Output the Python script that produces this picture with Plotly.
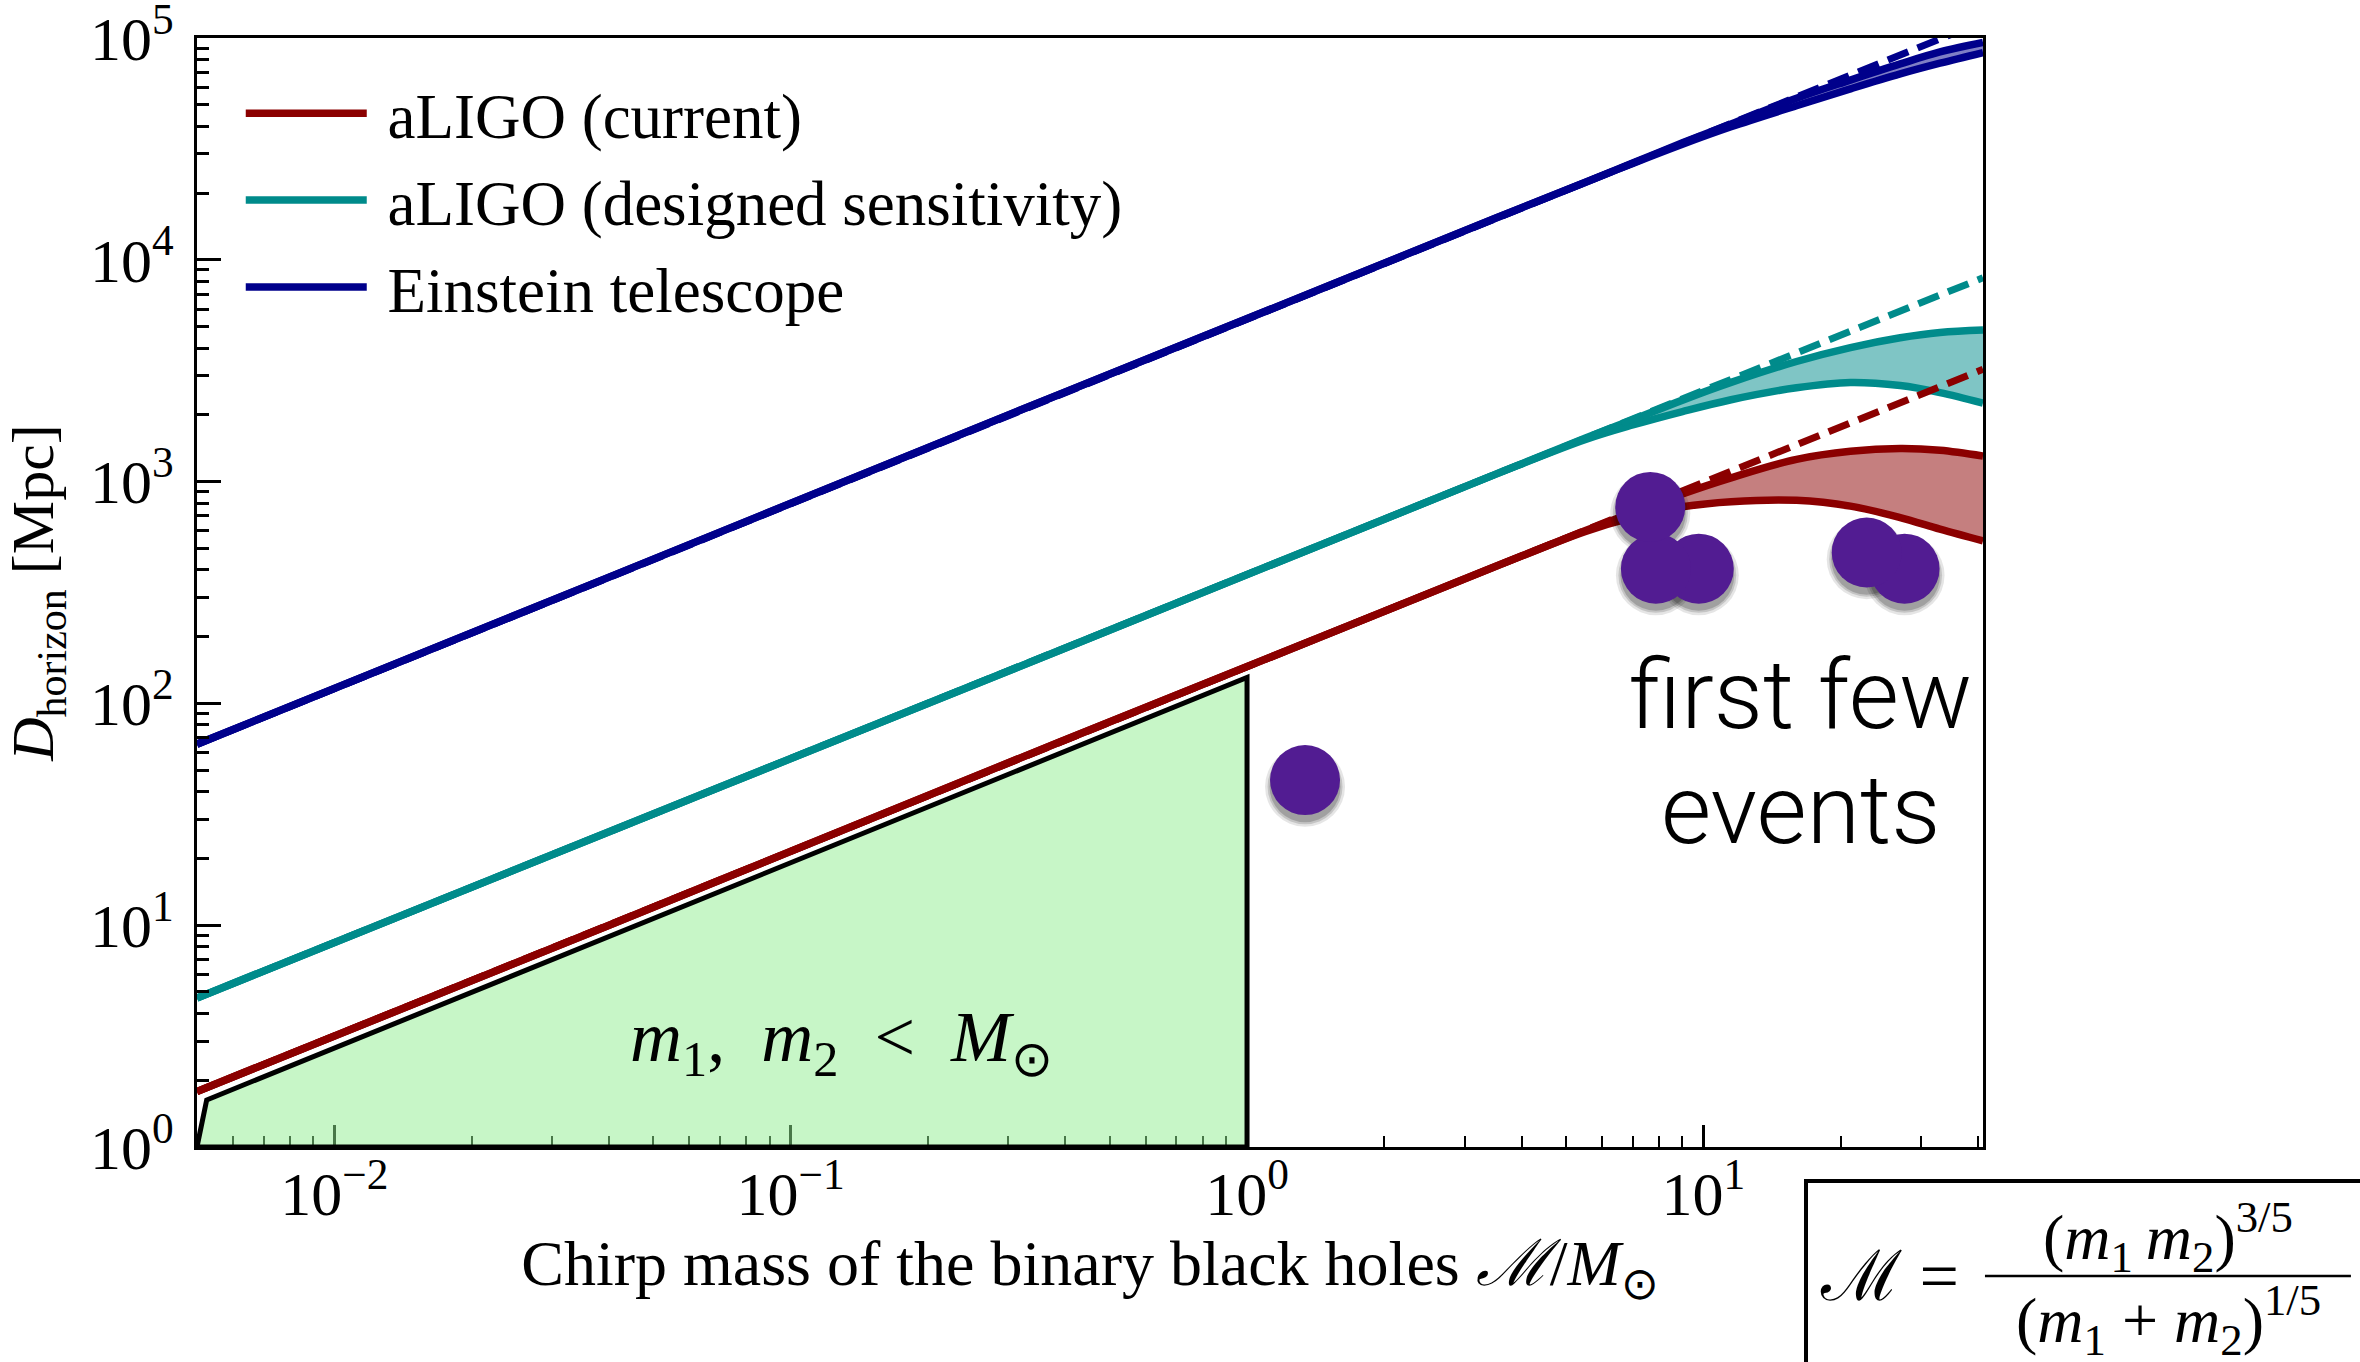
import numpy as np
import plotly.graph_objects as go

# ---------------- data ----------------
X_RANGE = [0.005, 41]
Y_RANGE = [1, 1e5]

M_grid = [0.005, 0.04, 0.3, 1.5, 3.5, 5.5, 7, 9, 11.5, 16, 21, 27, 33, 41]

# aLIGO (current)
cur_upper = [1.78, 10.0, 54, 205, 414, 600, 725, 880, 1040, 1260, 1370, 1410, 1385, 1305]
cur_lower = [1.78, 10.0, 54, 205, 414, 595, 690, 770, 812, 823, 775, 688, 610, 540]
cur_dash_M = [0.005, 41]
cur_dash_D = [1.78, 3210]

# aLIGO (designed sensitivity)
des_upper = [4.7, 26.4, 140, 533, 1078, 1568, 1900, 2330, 2800, 3480, 4020, 4450, 4700, 4820]
des_lower = [4.7, 26.4, 140, 533, 1078, 1545, 1800, 2070, 2340, 2650, 2800, 2710, 2520, 2260]
des_dash_M = [0.005, 41]
des_dash_D = [4.7, 8300]

# Einstein telescope
et_upper = [65.5, 371, 1998, 7595, 15400, 22300, 27300, 33700, 41000, 53500, 64600, 76400, 86500, 95500]
et_lower = [65.5, 371, 1998, 7595, 15400, 22300, 27200, 33200, 39800, 49500, 59000, 68900, 77000, 86000]
et_dash_M = [0.005, 41]
et_dash_D = [65.5, 118600]

# region m1, m2 < M_sun
green_M = [0.005, 0.00525, 1.0, 1.0, 0.005]
green_D = [1.0, 1.63, 131, 1.0, 1.0]

# detected events (drawn back to front)
ev_M = [27.6, 22.8, 9.77, 7.87, 7.65, 1.34]
ev_D = [405, 479, 405, 405, 769, 45.1]

# ticks
x_ticks = [0.01, 0.1, 1, 10]
x_labels = ["10<sup>\u22122</sup>", "10<sup>\u22121</sup>", "10<sup>0</sup>", "10<sup>1</sup>"]
y_ticks = [1, 10, 100, 1000, 1e4, 1e5]
y_labels = ["10<sup>0</sup>", "10<sup>1</sup>", "10<sup>2</sup>", "10<sup>3</sup>",
            "10<sup>4</sup>", "10<sup>5</sup>"]
x_minor = [m * 10.0 ** k for k in (-3, -2, -1, 0, 1) for m in range(2, 10)
           if X_RANGE[0] < m * 10.0 ** k < X_RANGE[1]]
y_minor = [m * 10.0 ** k for k in range(0, 5) for m in range(2, 10)]

RED, TEAL, NAVY = "#8b0000", "#008b8b", "#00008b"
SERIF = "Liberation Serif"
LW = 7.5

fig = go.Figure()

fig.add_trace(go.Scatter(
    x=green_M, y=green_D, mode="lines", fill="toself",
    fillcolor="rgba(144,238,144,0.5)", line=dict(color="black", width=5),
    showlegend=False, hoverinfo="skip"))

detectors = [
    (cur_upper, cur_lower, cur_dash_M, cur_dash_D, RED, "rgba(139,0,0,0.5)", "aLIGO (current)"),
    (des_upper, des_lower, des_dash_M, des_dash_D, TEAL, "rgba(0,139,139,0.5)",
     "aLIGO (designed sensitivity)"),
    (et_upper, et_lower, et_dash_M, et_dash_D, NAVY, "rgba(0,0,139,0.5)", "Einstein telescope"),
]

for upper, lower, dM, dD, color, fillcolor, name in detectors:
    fig.add_trace(go.Scatter(
        x=M_grid, y=upper, mode="lines", name="\u00a0" + name, legendgroup=name,
        line=dict(color=color, width=LW, shape="spline")))
    fig.add_trace(go.Scatter(
        x=M_grid, y=lower, mode="lines", fill="tonexty", fillcolor=fillcolor,
        line=dict(color=color, width=LW, shape="spline"),
        showlegend=False, legendgroup=name, hoverinfo="skip"))

for upper, lower, dM, dD, color, fillcolor, name in detectors:
    fig.add_trace(go.Scatter(
        x=dM, y=dD, mode="lines", line=dict(color=color, width=7, dash="22px,10px"),
        showlegend=False, legendgroup=name, hoverinfo="skip"))

# soft drop shadows (overlay axis shifted a few pixels down)
for size, col in ((80, "rgba(0,0,0,0.10)"), (75, "rgba(0,0,0,0.14)"), (71, "rgba(0,0,0,0.18)")):
    fig.add_trace(go.Scatter(
        x=ev_M, y=ev_D, mode="markers", yaxis="y2",
        marker=dict(size=size, color=col, line=dict(width=0)),
        showlegend=False, hoverinfo="skip"))

fig.add_trace(go.Scatter(
    x=ev_M, y=ev_D, mode="markers", yaxis="y3",
    marker=dict(size=70, color="#521c92", line=dict(width=0)),
    showlegend=False))

ylog = [np.log10(Y_RANGE[0]), np.log10(Y_RANGE[1])]
shift = 0.03

fig.update_layout(
    width=2360, height=1362,
    margin=dict(l=197, r=377, t=38, b=215, autoexpand=False),
    paper_bgcolor="white", plot_bgcolor="white",
    legend=dict(x=0.0245, y=0.975, xanchor="left", yanchor="top",
                font=dict(family=SERIF, size=63, color="black"),
                bgcolor="rgba(0,0,0,0)", itemwidth=121, tracegroupgap=2,
                traceorder="grouped"),
    xaxis=dict(
        type="log", range=[np.log10(X_RANGE[0]), np.log10(X_RANGE[1])],
        showline=True, linecolor="black", linewidth=3, mirror=True,
        ticks="inside", ticklen=22, tickwidth=2.5, tickcolor="black",
        tickmode="array", tickvals=x_ticks, ticktext=x_labels,
        tickfont=dict(family=SERIF, size=62, color="black"), ticklabelstandoff=-9,
        ticklabeloverflow="allow",
        minor=dict(tickmode="array", tickvals=x_minor, ticks="inside", ticklen=11,
                   tickwidth=2, tickcolor="black", showgrid=False),
        showgrid=False, zeroline=False, layer="below traces",
        title=dict(text="Chirp mass of the binary black holes <i>\u2133</i>/<i>M</i><sub>\u2299</sub>",
                   font=dict(family=SERIF, size=64, color="black"), standoff=9),
    ),
    yaxis=dict(
        type="log", range=ylog,
        showline=True, linecolor="black", linewidth=3, mirror=True,
        ticks="inside", ticklen=24, tickwidth=3, tickcolor="black",
        tickmode="array", tickvals=y_ticks, ticktext=y_labels,
        tickfont=dict(family=SERIF, size=62, color="black"), ticklabelstandoff=8,
        ticklabeloverflow="allow",
        minor=dict(tickmode="array", tickvals=y_minor, ticks="inside", ticklen=12,
                   tickwidth=2.5, tickcolor="black", showgrid=False),
        showgrid=False, zeroline=False,
        title=dict(text="<i>D</i><sub>horizon</sub> [Mpc]",
                   font=dict(family=SERIF, size=60, color="black"), standoff=18),
    ),
    yaxis2=dict(type="log", range=[ylog[0] + shift, ylog[1] + shift], overlaying="y",
                visible=False, fixedrange=True),
    yaxis3=dict(type="log", range=ylog, overlaying="y", visible=False, fixedrange=True),
)

fig.add_annotation(
    text="<i>m</i><sub>1</sub>,\u2002<i>m</i><sub>2</sub>\u2002&lt;\u2002<i>M</i><sub>\u2299</sub>",
    xref="paper", yref="paper", x=0.361, y=0.095, showarrow=False,
    xanchor="center", yanchor="middle", font=dict(family=SERIF, size=72, color="black"))

sans = dict(family="Roboto", size=97, color="black", weight=300)
fig.add_annotation(text="first few", xref="paper", yref="paper", x=0.898, y=0.408,
                   showarrow=False, xanchor="center", yanchor="middle", font=sans)
fig.add_annotation(text="events", xref="paper", yref="paper", x=0.898, y=0.304,
                   showarrow=False, xanchor="center", yanchor="middle", font=sans)

# chirp-mass definition box
fig.add_shape(type="rect", xref="paper", yref="paper", x0=0.9009, x1=1.4, y0=-0.6, y1=-0.0307,
              line=dict(color="black", width=4), fillcolor="rgba(0,0,0,0)")
fig.add_shape(type="line", xref="paper", yref="paper", x0=1.0011, x1=1.2060, y0=-0.1163, y1=-0.1163,
              line=dict(color="black", width=2.5))
fig.add_annotation(text="\u2133 =", xref="paper", yref="paper", x=0.9479, y=-0.117,
                   showarrow=False, xanchor="center", yanchor="middle",
                   font=dict(family=SERIF, size=70, color="black"))
frac_font = dict(family=SERIF, size=64, color="black")
fig.add_annotation(text="(<i>m</i><sub>1</sub>\u2009<i>m</i><sub>2</sub>)<sup>3/5</sup>",
                   xref="paper", yref="paper", x=1.1036, y=-0.0810, showarrow=False,
                   xanchor="center", yanchor="middle", font=frac_font)
fig.add_annotation(text="(<i>m</i><sub>1</sub> + <i>m</i><sub>2</sub>)<sup>1/5</sup>",
                   xref="paper", yref="paper", x=1.1036, y=-0.156, showarrow=False,
                   xanchor="center", yanchor="middle", font=frac_font)

fig.write_html("out.html", config={"displayModeBar": False},
               post_script="document.body.style.margin='0px';")
